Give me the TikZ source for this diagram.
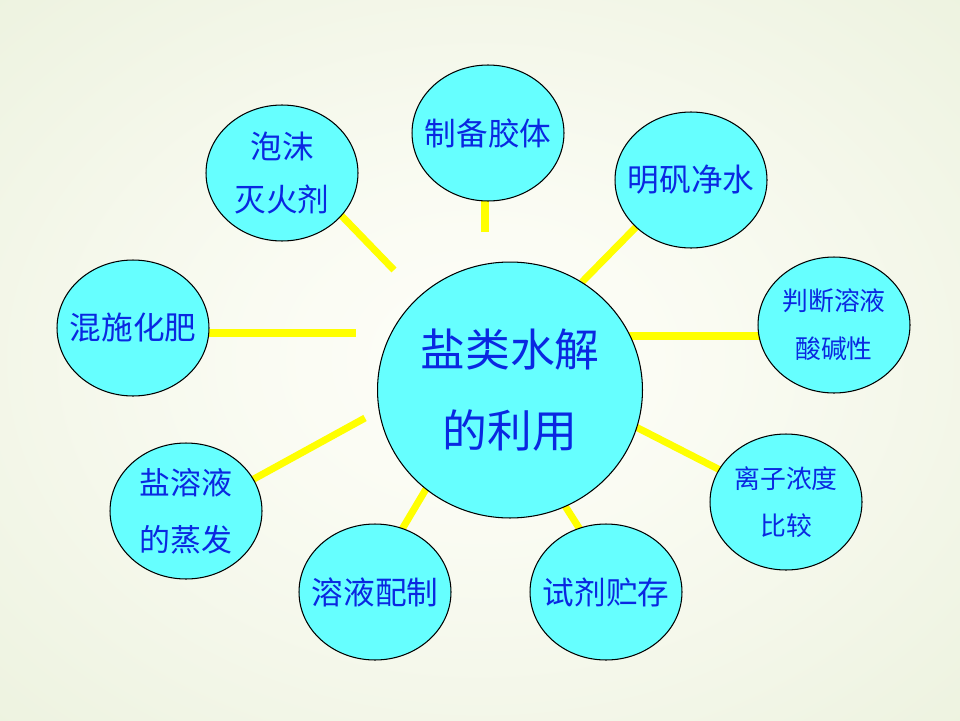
\documentclass[tikz,border=0pt]{standalone}
\usepackage{fontspec}
\newfontfamily\cjk{Noto Sans CJK SC}
\usetikzlibrary{shapes.geometric}
\definecolor{bubfill}{RGB}{102,255,255}
\definecolor{yel}{RGB}{255,255,0}
\definecolor{txtblue}{RGB}{10,40,225}
\pgfdeclareradialshading{bgshade}{\pgfpoint{0bp}{0bp}}{rgb(0bp)=(0.995,0.995,0.975); rgb(12bp)=(0.98,0.985,0.95); rgb(50bp)=(0.9,0.93,0.835); rgb(71bp)=(0.865,0.915,0.78)}
\tikzset{
  bub/.style={ellipse, draw=black, line width=0.6pt, fill=bubfill, inner sep=0pt, minimum width=3.04cm, minimum height=2.72cm},
  bigbub/.style={bub, minimum width=5.3cm, minimum height=5.12cm},
  conn/.style={draw=yel, line width=4pt},
  lbl/.style={text=txtblue, align=center, inner sep=0pt, font=\cjk\fontsize{18}{30}\selectfont},
  lblsmall/.style={lbl, font=\cjk\fontsize{14.7}{27.2}\selectfont},
  lblmid/.style={lbl, font=\cjk\fontsize{17.6}{32.3}\selectfont},
  lblbig/.style={lbl, font=\cjk\fontsize{25.5}{46.5}\selectfont}
}
\begin{document}
\begin{tikzpicture}[x=0.02cm,y=-0.02cm]
\shade[shading=bgshade] (0,0) rectangle (960,720);
\useasboundingbox (0,0) rectangle (960,720);
% connector end points
\coordinate (a1) at (336,210); \coordinate (b1) at (394,270);
\coordinate (a2) at (485,195); \coordinate (b2) at (485,232);
\coordinate (a3) at (639,224); \coordinate (b3) at (582,282);
\coordinate (a4) at (762,336); \coordinate (b4) at (628,336);
\coordinate (a5) at (205,333); \coordinate (b5) at (356,333);
\coordinate (a6) at (252,480); \coordinate (b6) at (365,418);
\coordinate (a7) at (722,471); \coordinate (b7) at (634,426);
\coordinate (a8) at (401,531); \coordinate (b8) at (429,484);
\coordinate (a9) at (581,531); \coordinate (b9) at (560,498);
\foreach \i in {1,...,9} \draw[conn] (a\i) -- (b\i);
% bubbles
\node[bigbub] (c) at (510,390) {};
\node[bub] (n1) at (282,173) {};
\node[bub] (n2) at (488,133) {};
\node[bub] (n3) at (691,180) {};
\node[bub] (n4) at (834,325) {};
\node[bub] (n5) at (133,328) {};
\node[bub] (n6) at (186,511) {};
\node[bub] (n7) at (786,502) {};
\node[bub] (n8) at (375,592) {};
\node[bub] (n9) at (606,592) {};
% labels
\node[lblbig] (tc) at (c) {盐类水解\\的利用};
\node[lbl] (t1) at (n1) {泡沫\\灭火剂};
\node[lbl] (t2) at (n2) {制备胶体};
\node[lbl] (t3) at (n3) {明矾净水};
\node[lblsmall] (t4) at (n4) {判断溶液\\酸碱性};
\node[lbl] (t5) at (n5) {混施化肥};
\node[lblmid] (t6) at (n6) {盐溶液\\的蒸发};
\node[lblsmall] (t7) at (n7) {离子浓度\\比较};
\node[lbl] (t8) at (n8) {溶液配制};
\node[lbl] (t9) at (n9) {试剂贮存};
\end{tikzpicture}
\end{document}
